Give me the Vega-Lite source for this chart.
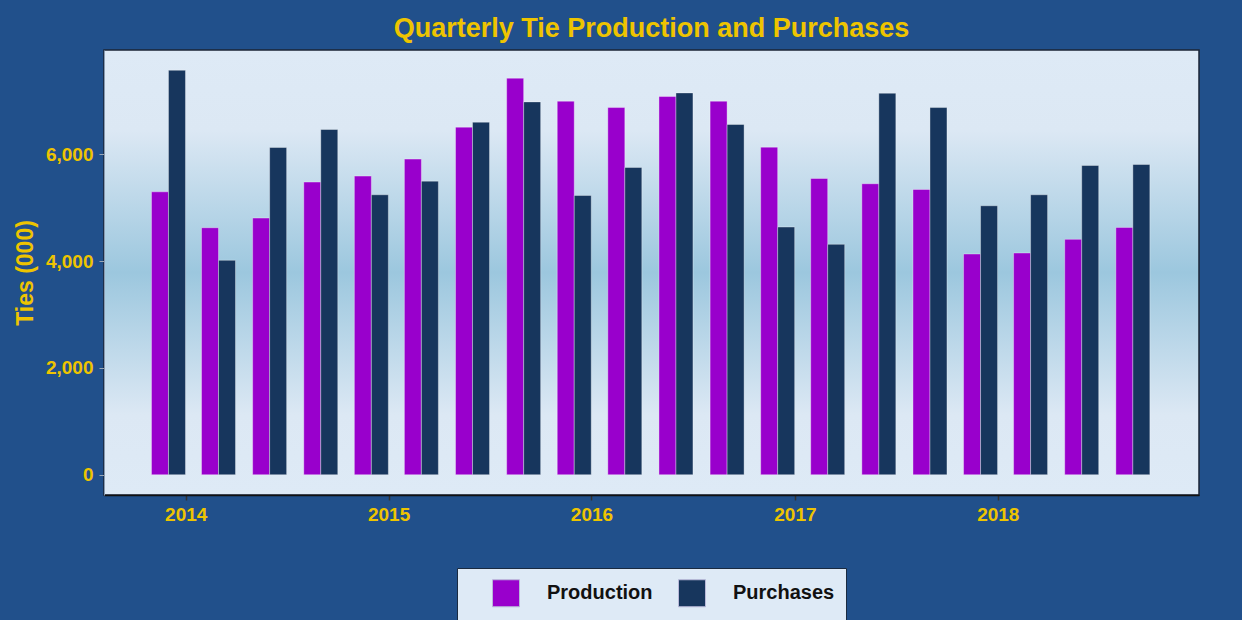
{
  "$schema": "https://vega.github.io/schema/vega-lite/v6.json",
  "width": 1095,
  "height": 445,
  "autosize": {"type": "none"},
  "padding": {"left": 104, "top": 50, "right": 43, "bottom": 125},
  "background": "#21508B",
  "view": {
    "fill": {
      "gradient": "linear",
      "x1": 0, "y1": 0, "x2": 0, "y2": 1,
      "stops": [
        {"offset": 0, "color": "#DEEAF6"},
        {"offset": 0.18, "color": "#DCE8F4"},
        {"offset": 0.5, "color": "#9CC7DE"},
        {"offset": 0.82, "color": "#DCE8F4"},
        {"offset": 1, "color": "#DEEAF6"}
      ]
    },
    "stroke": "#1B2436",
    "strokeWidth": 1.5
  },
  "title": {
    "text": "Quarterly Tie Production and Purchases",
    "font": "Liberation Sans",
    "fontSize": 27,
    "fontWeight": "bold",
    "color": "#EEC400",
    "anchor": "middle",
    "offset": 7
  },
  "data": {
    "values": [
      {"date": "2013-12-01", "series": "Production", "ties": 5295},
      {"date": "2014-03-01", "series": "Production", "ties": 4623},
      {"date": "2014-06-01", "series": "Production", "ties": 4804},
      {"date": "2014-09-01", "series": "Production", "ties": 5477},
      {"date": "2014-12-01", "series": "Production", "ties": 5589},
      {"date": "2015-03-01", "series": "Production", "ties": 5907},
      {"date": "2015-06-01", "series": "Production", "ties": 6505},
      {"date": "2015-09-01", "series": "Production", "ties": 7421},
      {"date": "2015-12-01", "series": "Production", "ties": 6991},
      {"date": "2016-03-01", "series": "Production", "ties": 6872},
      {"date": "2016-06-01", "series": "Production", "ties": 7078},
      {"date": "2016-09-01", "series": "Production", "ties": 6991},
      {"date": "2016-12-01", "series": "Production", "ties": 6131},
      {"date": "2017-03-01", "series": "Production", "ties": 5545},
      {"date": "2017-06-01", "series": "Production", "ties": 5446},
      {"date": "2017-09-01", "series": "Production", "ties": 5339},
      {"date": "2017-12-01", "series": "Production", "ties": 4131},
      {"date": "2018-03-01", "series": "Production", "ties": 4150},
      {"date": "2018-06-01", "series": "Production", "ties": 4405},
      {"date": "2018-09-01", "series": "Production", "ties": 4629},
      {"date": "2013-12-01", "series": "Purchases", "ties": 7570},
      {"date": "2014-03-01", "series": "Purchases", "ties": 4013},
      {"date": "2014-06-01", "series": "Purchases", "ties": 6125},
      {"date": "2014-09-01", "series": "Purchases", "ties": 6461},
      {"date": "2014-12-01", "series": "Purchases", "ties": 5240},
      {"date": "2015-03-01", "series": "Purchases", "ties": 5495},
      {"date": "2015-06-01", "series": "Purchases", "ties": 6598},
      {"date": "2015-09-01", "series": "Purchases", "ties": 6978},
      {"date": "2015-12-01", "series": "Purchases", "ties": 5227},
      {"date": "2016-03-01", "series": "Purchases", "ties": 5751},
      {"date": "2016-06-01", "series": "Purchases", "ties": 7146},
      {"date": "2016-09-01", "series": "Purchases", "ties": 6555},
      {"date": "2016-12-01", "series": "Purchases", "ties": 4636},
      {"date": "2017-03-01", "series": "Purchases", "ties": 4312},
      {"date": "2017-06-01", "series": "Purchases", "ties": 7140},
      {"date": "2017-09-01", "series": "Purchases", "ties": 6872},
      {"date": "2017-12-01", "series": "Purchases", "ties": 5034},
      {"date": "2018-03-01", "series": "Purchases", "ties": 5240},
      {"date": "2018-06-01", "series": "Purchases", "ties": 5788},
      {"date": "2018-09-01", "series": "Purchases", "ties": 5807}
    ]
  },
  "encoding": {
    "x": {
      "field": "date",
      "type": "temporal",
      "scale": {
        "type": "utc",
        "padding": 0,
        "domain": [
          {"year": 2013, "month": 8, "date": 7, "utc": true},
          {"year": 2018, "month": 12, "date": 29, "utc": true}
        ]
      },
      "axis": {
        "title": null,
        "grid": false,
        "values": [
          {"year": 2014, "month": 1, "date": 1, "utc": true},
          {"year": 2015, "month": 1, "date": 1, "utc": true},
          {"year": 2016, "month": 1, "date": 1, "utc": true},
          {"year": 2017, "month": 1, "date": 1, "utc": true},
          {"year": 2018, "month": 1, "date": 1, "utc": true}
        ],
        "labelExpr": "utcFormat(datum.value, '%Y')",
        "domainColor": "#111111",
        "domainWidth": 1.5,
        "tickColor": "#333333",
        "tickWidth": 1.5,
        "tickSize": 5,
        "labelFont": "Liberation Sans",
        "labelFontSize": 19,
        "labelFontWeight": "bold",
        "labelColor": "#EEC400",
        "labelPadding": 5
      }
    },
    "y": {
      "field": "ties",
      "type": "quantitative",
      "scale": {"domain": [-379, 7949], "nice": false, "zero": false, "padding": 0},
      "axis": {
        "title": "Ties (000)",
        "grid": false,
        "values": [0, 2000, 4000, 6000],
        "format": ",d",
        "domainColor": "#8A9BB0",
        "domainWidth": 1,
        "tickColor": "#9AA6B4",
        "tickSize": 5,
        "labelFont": "Liberation Sans",
        "labelFontSize": 19,
        "labelFontWeight": "bold",
        "labelColor": "#EEC400",
        "labelPadding": 6,
        "titleFont": "Liberation Sans",
        "titleFontSize": 23,
        "titleFontWeight": "bold",
        "titleColor": "#EEC400",
        "titlePadding": 8
      }
    },
    "color": {
      "field": "series",
      "type": "nominal",
      "scale": {"domain": ["Production", "Purchases"], "range": ["#9900CC", "#17365D"]},
      "legend": {
        "title": null,
        "orient": "none",
        "legendX": 353,
        "legendY": 518,
        "direction": "horizontal",
        "fillColor": "#DEEAF6",
        "strokeColor": "#1A2A40",
        "padding": 11,
        "symbolType": "square",
        "symbolSize": 729,
        "symbolStrokeColor": "#B8B8D8",
        "symbolStrokeWidth": 1,
        "symbolOpacity": 1,
        "symbolOffset": 24,
        "labelOffset": 27,
        "columnPadding": 1,
        "labelFont": "Liberation Sans",
        "labelFontSize": 20,
        "labelFontWeight": "bold",
        "labelColor": "#111111"
      }
    }
  },
  "layer": [
    {
      "transform": [{"filter": "datum.series === 'Production'"}],
      "mark": {"type": "bar", "width": 17, "xOffset": -8.5, "stroke": "#FFFFFF", "strokeOpacity": 0.35, "strokeWidth": 1, "opacity": 1}
    },
    {
      "transform": [{"filter": "datum.series === 'Purchases'"}],
      "mark": {"type": "bar", "width": 17, "xOffset": 8.5, "stroke": "#FFFFFF", "strokeOpacity": 0.35, "strokeWidth": 1, "opacity": 1}
    }
  ]
}
